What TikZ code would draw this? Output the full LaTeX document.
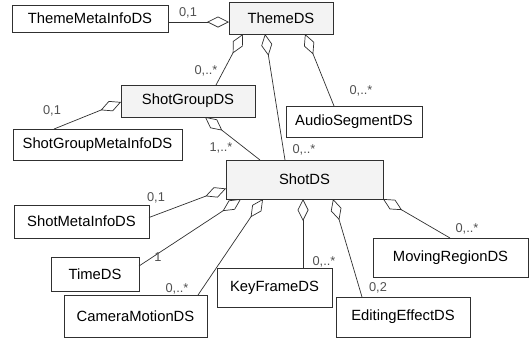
\documentclass[tikz,border=0pt]{standalone}
\usepackage{fontspec}
\setmainfont{Liberation Sans}
\usetikzlibrary{arrows.meta,calc}
\definecolor{edge}{HTML}{303030}
\definecolor{boxfill}{HTML}{F3F3F3}
\definecolor{multcol}{HTML}{505050}
\tikzset{
  cls/.style={draw=edge, line width=0.8pt, inner sep=0pt, outer sep=0pt,
    font=\fontsize{14.8}{17}\selectfont, text=black},
  main/.style={cls, fill=boxfill},
  mult/.style={font=\fontsize{12.8}{14}\selectfont, text=multcol, inner sep=0pt},
  agg/.style={draw=edge, line width=0.7pt, line join=miter,
    -{Diamond[open, length=22pt, width=11pt]}}
}
\begin{document}
\begin{tikzpicture}[x=1pt, y=-1pt]
\useasboundingbox (0,0) rectangle (529,338);

% classes
\node[cls,  minimum width=156pt, minimum height=27pt] (tmi) at (90,18.5) {ThemeMetaInfoDS};
\node[main, minimum width=104pt, minimum height=32pt] (theme) at (281,18) {ThemeDS};
\node[main, minimum width=134pt, minimum height=32pt] (sg) at (188,101) {ShotGroupDS};
\node[cls,  minimum width=169pt, minimum height=31pt] (sgmi) at (97.5,144.5) {ShotGroupMetaInfoDS};
\node[cls,  minimum width=136pt, minimum height=31pt] (audio) at (354,121.5) {AudioSegmentDS};
\node[main, minimum width=157pt, minimum height=39pt] (shot) at (304.5,179.5) {ShotDS};
\node[cls,  minimum width=135pt, minimum height=33pt] (smi) at (81.5,221.5) {ShotMetaInfoDS};
\node[cls,  minimum width=88pt,  minimum height=34pt] (time) at (95,274) {TimeDS};
\node[cls,  minimum width=143pt, minimum height=42pt] (cam) at (135.5,316) {CameraMotionDS};
\node[cls,  minimum width=115pt, minimum height=39pt] (kf) at (274.5,287.5) {KeyFrameDS};
\node[cls,  minimum width=134pt, minimum height=40pt] (edit) at (403,317) {EditingEffectDS};
\node[cls,  minimum width=155pt, minimum height=39pt] (mr) at (450.5,257.5) {MovingRegionDS};

% aggregations (diamond at the aggregate)
\draw[agg] ($(tmi.east)+(0,3.5)$) -- ($(theme.west)+(0,4)$);
\draw[agg] ($(sg.north west)+(95,0)$) -- ($(theme.south west)+(14,0)$);
\draw[agg] ($(shot.north west)+(59,0)$) -- ($(theme.south west)+(36,0)$);
\draw[agg] ($(audio.north west)+(48,0)$) -- ($(theme.south west)+(76,0)$);
\draw[agg] ($(sgmi.north west)+(41,0)$) -- ($(sg.west)+(0,1)$);
\draw[agg] ($(shot.north west)+(34,0)$) -- ($(sg.south west)+(84,0)$);
\draw[agg] ($(smi.east)+(0,-4)$) -- ($(shot.west)+(0,9)$);
\draw[agg] ($(time.north east)+(0,9)$) -- ($(shot.south west)+(15,0)$);
\draw[agg] ($(cam.north west)+(134,0)$) -- ($(shot.south west)+(37,0)$);
\draw[agg] ($(kf.north west)+(86,0)$) -- ($(shot.south west)+(77,0)$);
\draw[agg] ($(edit.north west)+(26,0)$) -- ($(shot.south west)+(107,0)$);
\draw[agg] ($(mr.north west)+(77,0)$) -- (shot.south east);

% multiplicities
\node[mult] (m1)  at (188,13)  {0,1};
\node[mult] (m2)  at (206,71)  {0,..*};
\node[mult] (m3)  at (304,150) {0,..*};
\node[mult] (m4)  at (361,91)  {0,..*};
\node[mult] (m5)  at (52,111)  {0,1};
\node[mult] (m6)  at (221,148) {1,..*};
\node[mult] (m7)  at (156,198) {0,1};
\node[mult] (m8)  at (158,257) {1};
\node[mult] (m9)  at (177,289) {0,..*};
\node[mult] (m10) at (324,262) {0,..*};
\node[mult] (m11) at (378,288) {0,2};
\node[mult] (m12) at (467,229) {0,..*};
\end{tikzpicture}
\end{document}
